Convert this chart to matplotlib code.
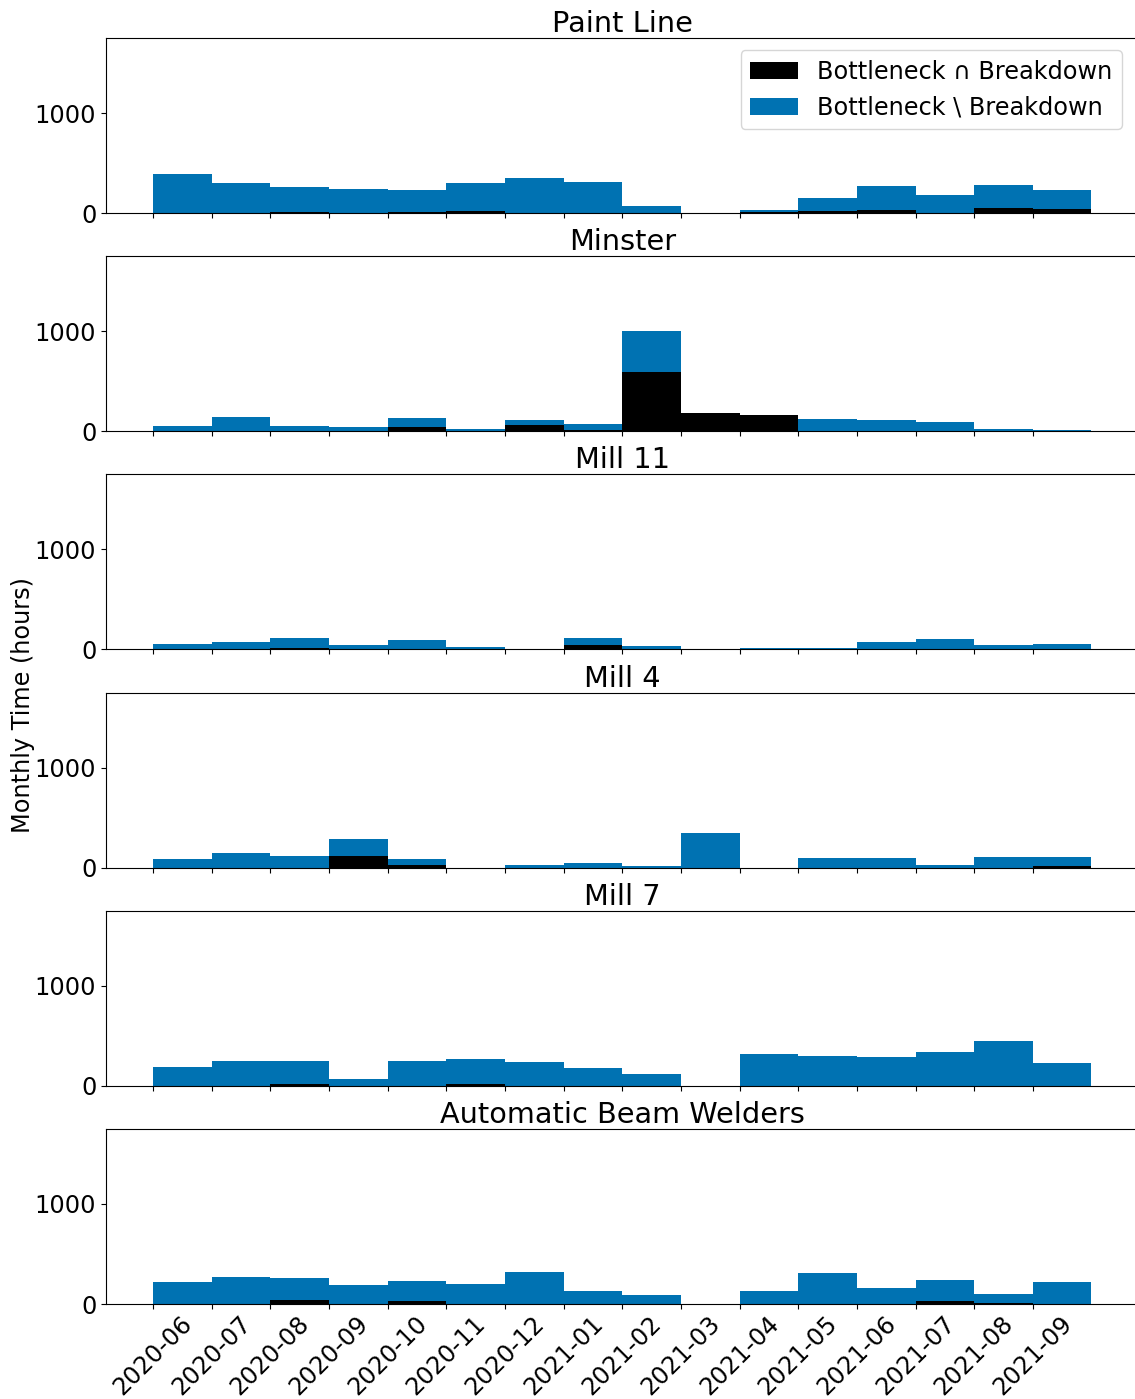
import matplotlib
matplotlib.use("Agg")
import matplotlib.pyplot as plt
import numpy as np

months = ["2020-06", "2020-07", "2020-08", "2020-09", "2020-10", "2020-11", "2020-12",
          "2021-01", "2021-02", "2021-03", "2021-04", "2021-05", "2021-06", "2021-07",
          "2021-08", "2021-09"]

machines = ["Paint Line", "Minster", "Mill 11", "Mill 4", "Mill 7", "Automatic Beam Welders"]

# Bottleneck ∩ Breakdown (hours)
paint_line_bd = [0, 0, 12, 0, 12, 20, 0, 0, 0, 0, 10, 20, 30, 0, 50, 40]
minster_bd = [0, 0, 0, 0, 40, 0, 60, 10, 590, 180, 160, 0, 0, 0, 0, 0]
mill11_bd = [0, 0, 12, 0, 0, 0, 0, 40, 0, 0, 0, 0, 0, 0, 0, 0]
mill4_bd = [0, 0, 0, 115, 25, 0, 0, 0, 0, 0, 0, 0, 0, 0, 0, 15]
mill7_bd = [0, 0, 23, 0, 0, 23, 0, 0, 0, 0, 0, 0, 0, 0, 0, 0]
welders_bd = [0, 0, 40, 0, 30, 0, 0, 0, 0, 0, 0, 0, 0, 30, 10, 0]

# Total bottleneck time (hours)
paint_line_total = [390, 300, 260, 240, 230, 300, 350, 310, 70, 0, 30, 150, 270, 180, 280, 230]
minster_total = [50, 140, 50, 40, 130, 20, 110, 70, 1000, 180, 160, 120, 110, 90, 20, 10]
mill11_total = [50, 70, 110, 40, 90, 20, 0, 110, 30, 0, 12, 12, 70, 100, 40, 50]
mill4_total = [85, 145, 115, 285, 85, 0, 27, 45, 15, 345, 0, 95, 95, 25, 105, 105]
mill7_total = [185, 245, 245, 65, 245, 265, 235, 175, 115, 0, 315, 295, 285, 335, 445, 225]
welders_total = [215, 270, 260, 190, 230, 200, 320, 130, 90, 0, 130, 310, 160, 240, 100, 220]

breakdown = [paint_line_bd, minster_bd, mill11_bd, mill4_bd, mill7_bd, welders_bd]
totals = [paint_line_total, minster_total, mill11_total, mill4_total, mill7_total, welders_total]

BLUE = "#0072B2"
FS = 17.3

fig, axes = plt.subplots(6, 1, figsize=(11.35, 13.99), dpi=100, sharex=True, sharey=True)
fig.subplots_adjust(left=0.0934, right=1.003, top=0.9728, bottom=0.0679, hspace=0.246)

x = np.arange(len(months))
for i, ax in enumerate(axes):
    bd = np.array(breakdown[i], dtype=float)
    tot = np.array(totals[i], dtype=float)
    rest = tot - bd
    ax.bar(x, bd, width=1.0, align="edge", color="black", label="Bottleneck \u2229 Breakdown")
    ax.bar(x, rest, width=1.0, align="edge", bottom=bd, color=BLUE, label="Bottleneck \\ Breakdown")
    ax.set_title(machines[i], fontsize=20.7, pad=4)
    ax.set_ylim(0, 1750)
    ax.set_yticks([0, 1000])
    ax.tick_params(axis="both", labelsize=FS)
    if i == 0:
        ax.legend(loc="upper right", fontsize=FS, bbox_to_anchor=(0.996, 1.0),
                  borderaxespad=0.5, handletextpad=0.8)

axes[-1].set_xticks(x)
axes[-1].set_xticklabels(months, rotation=45)
axes[-1].tick_params(axis="x", pad=2)
axes[-1].set_xlim(-0.8, 16.8)

fig.text(0.02, 0.496, "Monthly Time (hours)", rotation=90, va="center", ha="center", fontsize=FS)

fig.savefig("out.png", dpi=100)
